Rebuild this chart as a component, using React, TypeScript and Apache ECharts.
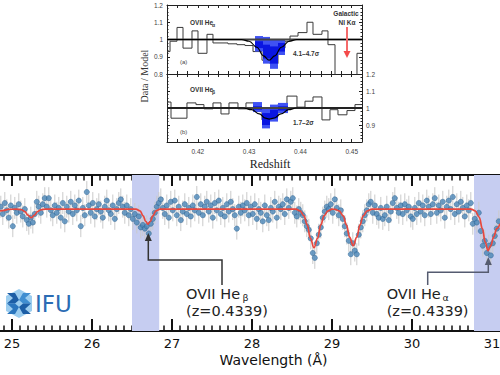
import React, { useEffect, useRef } from "react";
import * as echarts from "echarts";

// ---------- main spectrum ----------
const WL_START = 24.86;
const WL_STEP = 0.025;
const flux = [
  1.02, 0.96, 1.05, 0.99, 0.93, 1.03, 0.86, 1.01, 0.97, 1.04,
  0.98, 0.94, 1.0, 0.91, 0.88, 0.93, 0.89, 0.96, 1.06, 1.02,
  0.97, 1.04, 1.09, 1.02, 1.09, 0.99, 0.95, 1.03, 0.97, 1.01,
  0.93, 1.05, 0.9, 1.02, 0.98, 1.06, 0.96, 1.03, 0.99, 1.07,
  0.86, 1.01, 0.95, 1.14, 1.03, 0.97, 1.05, 0.94, 1.0, 1.04,
  0.98, 0.93, 1.02, 1.07, 0.99, 0.96, 1.03, 0.92, 1.0, 1.05,
  1.08, 1.02, 0.97, 1.03, 0.95, 1.0, 0.92, 0.96, 0.89, 0.94,
  0.85, 0.87, 0.84, 0.86, 0.8, 0.88, 0.92, 0.97, 1.02, 1.05,
  1.08, 1.01, 0.96, 1.03, 0.93, 1.06, 0.99, 1.07, 0.95, 1.02,
  0.91, 0.98, 1.04, 0.96, 1.01, 0.94, 1.03, 0.99, 1.1, 0.97,
  1.04, 0.95, 1.02, 1.06, 0.98, 1.03, 0.93, 1.05, 0.99, 1.07,
  0.96, 1.01, 0.94, 1.04, 0.98, 1.06, 1.0, 0.95, 0.84, 1.02,
  0.97, 1.03, 0.99, 1.05, 0.95, 1.02, 0.96, 1.04, 0.92, 1.0,
  0.97, 0.9, 1.03, 0.95, 0.91, 1.01, 0.98, 1.06, 0.93, 1.02,
  1.0, 1.04, 0.96, 1.08, 1.01, 1.06, 1.09, 0.97, 0.94, 1.0,
  0.97, 0.95, 0.9, 0.86, 0.83, 0.76, 0.64, 0.6, 0.72, 0.79,
  0.85, 0.93, 0.98, 1.02, 1.0, 1.04, 0.97, 1.08, 1.01, 0.95,
  0.99, 0.92, 0.86, 0.8, 0.74, 0.63, 0.72, 0.66, 0.63, 0.79,
  0.85, 0.9, 0.95, 0.99, 1.04, 1.06, 0.97, 1.03, 0.96, 0.93,
  1.01, 0.92, 0.95, 1.02, 0.91, 0.98, 1.05, 1.09, 1.01, 0.97,
  1.03, 0.96, 1.04, 0.99, 1.02, 0.94, 0.92, 1.01, 0.96, 1.05,
  0.98, 1.03, 0.95, 1.07, 1.02, 0.96, 1.04, 1.09, 0.97, 1.03,
  0.99, 1.06, 0.93, 1.02, 1.07, 1.0, 1.1, 0.96, 1.04, 0.98,
  1.06, 1.01, 0.94, 1.03, 0.99, 1.05, 0.88, 0.92, 0.89, 0.97,
  0.82, 0.7, 0.74, 0.64, 0.7, 0.62, 0.72, 0.78, 0.84, 0.9,
];
const FLUX_ERR = 0.09;

const modelCurve = [
  [24.85, 0.985], [24.9, 0.99], [24.95, 0.998], [25.05, 1.0], [25.12, 0.995],
  [25.16, 0.98], [25.2, 0.95], [25.24, 0.93], [25.28, 0.95], [25.32, 0.98],
  [25.36, 0.995], [25.42, 1.0], [26.55, 1.0], [26.6, 0.985], [26.64, 0.945],
  [26.67, 0.9], [26.7, 0.877], [26.73, 0.9], [26.76, 0.945], [26.8, 0.985],
  [26.85, 1.0], [28.55, 1.0], [28.6, 0.985], [28.65, 0.945], [28.69, 0.87],
  [28.73, 0.76], [28.775, 0.683], [28.82, 0.76], [28.86, 0.87], [28.9, 0.945],
  [28.95, 0.985], [29.0, 1.0], [29.04, 0.998], [29.09, 0.985], [29.14, 0.945],
  [29.18, 0.87], [29.22, 0.77], [29.265, 0.7], [29.31, 0.77], [29.35, 0.87],
  [29.39, 0.945], [29.44, 0.985], [29.5, 1.0], [30.74, 1.0], [30.79, 0.985],
  [30.84, 0.935], [30.88, 0.84], [30.915, 0.73], [30.95, 0.66], [30.985, 0.7],
  [31.02, 0.77], [31.06, 0.84], [31.1, 0.88],
];

const bands = [
  [26.5, 26.84],
  [30.775, 31.3],
];

// ---------- inset (redshift) ----------
const histAEdges = [
  0.414, 0.41459, 0.41595, 0.41712, 0.41887, 0.42004, 0.42179, 0.42296, 0.42433,
  0.42589, 0.42764, 0.4292, 0.43076, 0.43251, 0.43407, 0.43563, 0.43699, 0.43797,
  0.43953, 0.44128, 0.44245, 0.4442, 0.44537, 0.44674, 0.45102, 0.452,
];
const histAValues = [
  0.93, 0.99, 1.07, 0.95, 1.05, 0.92, 1.03, 0.98, 0.98, 0.975, 0.97, 0.965, 0.93,
  0.88, 0.86, 0.95, 0.99, 1.02, 1.04, 1.1, 1.03, 1.05, 0.97, 0.7, 0.92,
];
const histBEdges = [
  0.414, 0.41478, 0.41789, 0.41965, 0.4212, 0.42296, 0.42452, 0.42608, 0.42783,
  0.42939, 0.43095, 0.43251, 0.43407, 0.43563, 0.43738, 0.43933, 0.44089, 0.44245,
  0.4442, 0.44576, 0.44732, 0.44907, 0.45063, 0.452,
];
const histBValues = [
  1.035, 0.94, 1.03, 1.02, 0.995, 1.03, 0.965, 1.03, 0.995, 1.03, 1.0, 0.93, 0.95,
  1.02, 1.07, 1.005, 1.04, 1.065, 0.93, 0.99, 0.96, 0.985, 1.02,
];
// [z0, z1, hi, lo]
const blueAOuter = [
  [0.43115, 0.43271, 1.02, 0.93],
  [0.43271, 0.43407, 1.015, 0.86],
  [0.43407, 0.43563, 1.0, 0.83],
  [0.43563, 0.43699, 1.0, 0.91],
];
const blueAInner = [
  [0.43115, 0.43271, 0.99, 0.95],
  [0.43271, 0.43407, 0.97, 0.89],
  [0.43407, 0.43563, 0.96, 0.86],
  [0.43563, 0.43699, 0.98, 0.93],
];
const blueBOuter = [
  [0.43076, 0.43251, 1.035, 0.976],
  [0.43251, 0.43407, 1.006, 0.88],
  [0.43407, 0.43563, 1.02, 0.92],
  [0.43563, 0.43758, 1.03, 0.97],
];
const blueBInner = [
  [0.43076, 0.43251, 1.01, 0.99],
  [0.43251, 0.43407, 0.97, 0.9],
  [0.43407, 0.43563, 0.99, 0.94],
  [0.43563, 0.43758, 1.01, 0.985],
];
const modelA = [
  [0.414, 1], [0.4285, 1.0], [0.43, 0.99], [0.4315, 0.955], [0.4328, 0.905],
  [0.4339, 0.88], [0.435, 0.905], [0.4363, 0.955], [0.4378, 0.99], [0.4393, 1.0], [0.452, 1],
];
const modelB = [
  [0.414, 1], [0.4288, 1], [0.4305, 0.99], [0.432, 0.965], [0.4332, 0.94],
  [0.4339, 0.935], [0.4348, 0.94], [0.4362, 0.965], [0.4377, 0.99], [0.4392, 1], [0.452, 1],
];
const unityLine = [
  [0.414, 1],
  [0.452, 1],
];

const Z_MIN = 0.414;
const Z_MAX = 0.452;

function stepData(edges: number[], vals: number[]) {
  const out: number[][] = [];
  vals.forEach((v, i) => out.push([edges[i], v]));
  out.push([edges[edges.length - 1], vals[vals.length - 1]]);
  return out;
}

function rectRender(color: string) {
  return (params: any, api: any) => {
    const a = api.coord([api.value(0), api.value(2)]);
    const b = api.coord([api.value(1), api.value(3)]);
    return {
      type: "rect",
      shape: { x: a[0], y: a[1], width: b[0] - a[0], height: b[1] - a[1] },
      style: { fill: color },
    };
  };
}

const isMult = (v: number, m: number) => Math.abs(v / m - Math.round(v / m)) < 1e-6;

function insetX(grid: number, position: string, showLabel: boolean) {
  return {
    type: "value",
    gridIndex: grid,
    position,
    min: Z_MIN,
    max: Z_MAX,
    interval: 0.002,
    axisLine: { show: true, onZero: false, lineStyle: { color: "#222", width: 1 } },
    axisTick: { show: true, inside: true, length: 3, lineStyle: { color: "#222", width: 1 } },
    axisLabel: {
      show: showLabel,
      formatter: (v: number) => (isMult(v, 0.01) ? v.toFixed(2) : ""),
      fontSize: 6.5,
      color: "#444",
      margin: 6,
      fontFamily: "Liberation Sans",
    },
    splitLine: { show: false },
  };
}

function insetY(grid: number, position: string, showLabel: boolean, hideMin = false) {
  return {
    type: "value",
    gridIndex: grid,
    position,
    min: 0.8,
    max: 1.2,
    interval: 0.1,
    axisLine: { show: true, onZero: false, lineStyle: { color: "#222", width: 1 } },
    axisTick: { show: true, inside: true, length: 3, lineStyle: { color: "#222", width: 1 } },
    minorTick: { show: true, splitNumber: 5, length: 1.5, lineStyle: { color: "#222", width: 1 } },
    axisLabel: {
      show: showLabel,
      formatter: (v: number) => (hideMin && v < 0.85 ? "" : String(Math.round(v * 10) / 10)),
      fontSize: 6.5,
      color: "#444",
      margin: 4,
      fontFamily: "Liberation Sans",
    },
    splitLine: { show: false },
  };
}

function mainX(position: string, showLabel: boolean, tickLen: number) {
  return {
    type: "value",
    gridIndex: 0,
    position,
    min: 24,
    max: 32,
    interval: 1,
    axisLine: { show: true, onZero: false, lineStyle: { color: "#111", width: 2 } },
    axisTick: { show: true, inside: true, length: tickLen, lineStyle: { color: "#111", width: 2 } },
    minorTick: { show: true, splitNumber: 10, length: 5.5, lineStyle: { color: "#111", width: 1.5 } },
    axisLabel: {
      show: showLabel,
      formatter: (v: number) => (v > 24.5 && v < 31.5 ? String(v) : ""),
      fontSize: 13,
      color: "#111",
      margin: 6,
      fontFamily: "DejaVu Sans",
    },
    splitLine: { show: false },
    minorSplitLine: { show: false },
  };
}

export default function App() {
  const ref = useRef<HTMLDivElement>(null);
  useEffect(() => {
    const chart = echarts.init(ref.current!, null, { renderer: "svg" });
    const points = flux.map((f, i) => [WL_START + i * WL_STEP, f]);
    const smallFont = "Liberation Sans";
    const txt = (x: number, y: number, text: string, size: number, extra: any = {}) => ({
      type: "text",
      x,
      y,
      silent: true,
      style: {
        text,
        fontSize: size,
        fontFamily: extra.fontFamily || "DejaVu Sans",
        fontWeight: extra.fontWeight || "normal",
        fill: extra.fill || "#222",
        textAlign: extra.align || "left",
        textVerticalAlign: "middle",
        fontStyle: extra.fontStyle || "normal",
      },
      rotation: extra.rotation || 0,
      z: 50,
    });

    const gridBase = { containLabel: false, outerBoundsMode: "none" };
    const option: any = {
      animation: false,
      textStyle: { fontFamily: "DejaVu Sans" },
      grid: [
        { ...gridBase, left: -68, right: -72, top: 175, bottom: 44 },
        { ...gridBase, left: 167, width: 195, top: 5, height: 69 },
        { ...gridBase, left: 167, width: 195, top: 74, height: 68 },
      ],
      xAxis: [
        mainX("bottom", true, 12),
        mainX("top", false, 11),
        insetX(1, "bottom", false),
        insetX(1, "top", false),
        insetX(2, "bottom", true),
        insetX(2, "top", false),
      ],
      yAxis: [
        { type: "value", gridIndex: 0, min: 0, max: 1.28, show: false },
        insetY(1, "left", true),
        insetY(1, "right", false),
        insetY(2, "left", false),
        insetY(2, "right", true, true),
      ],
      series: [
        {
          type: "custom",
          xAxisIndex: 0,
          yAxisIndex: 0,
          z: 2,
          silent: true,
          data: points,
          encode: { x: 0, y: 1 },
          renderItem: (params: any, api: any) => {
            const x = api.value(0);
            const y = api.value(1);
            const p1 = api.coord([x, y + FLUX_ERR]);
            const p2 = api.coord([x, y - FLUX_ERR]);
            return {
              type: "line",
              shape: { x1: p1[0], y1: p1[1], x2: p2[0], y2: p2[1] },
              style: { stroke: "#cacaca", lineWidth: 1 },
            };
          },
          markArea: {
            silent: true,
            itemStyle: { color: "#c6cdf1", opacity: 1 },
            data: bands.map((b) => [{ xAxis: b[0] }, { xAxis: b[1] }]),
          },
        },
        {
          type: "scatter",
          xAxisIndex: 0,
          yAxisIndex: 0,
          z: 3,
          symbolSize: 5.2,
          data: points,
          itemStyle: { color: "#4a86b8", borderColor: "#2f6392", borderWidth: 0.6 },
        },
        {
          type: "line",
          xAxisIndex: 0,
          yAxisIndex: 0,
          z: 4,
          data: modelCurve,
          showSymbol: false,
          smooth: 0.4,
          smoothMonotone: "x",
          lineStyle: { color: "#e8473d", width: 1.7 },
        },
        // inset (a)
        {
          type: "line",
          xAxisIndex: 2,
          yAxisIndex: 1,
          data: stepData(histAEdges, histAValues),
          step: "end",
          showSymbol: false,
          lineStyle: { color: "#3a3a3a", width: 1 },
          z: 2,
        },
        {
          type: "custom",
          xAxisIndex: 2,
          yAxisIndex: 1,
          data: blueAOuter,
          encode: { x: [0, 1], y: [2, 3] },
          renderItem: rectRender("#3f52f3"),
          z: 3,
        },
        {
          type: "custom",
          xAxisIndex: 2,
          yAxisIndex: 1,
          data: blueAInner,
          encode: { x: [0, 1], y: [2, 3] },
          renderItem: rectRender("#0a16e2"),
          z: 4,
        },
        {
          type: "line",
          xAxisIndex: 2,
          yAxisIndex: 1,
          data: unityLine,
          showSymbol: false,
          lineStyle: { color: "#444", width: 1.8 },
          z: 5,
        },
        {
          type: "line",
          xAxisIndex: 2,
          yAxisIndex: 1,
          data: modelA,
          showSymbol: false,
          smooth: 0.4,
          smoothMonotone: "x",
          lineStyle: { color: "#000", width: 1.2 },
          z: 6,
        },
        // inset (b)
        {
          type: "line",
          xAxisIndex: 4,
          yAxisIndex: 3,
          data: stepData(histBEdges, histBValues),
          step: "end",
          showSymbol: false,
          lineStyle: { color: "#3a3a3a", width: 1 },
          z: 2,
        },
        {
          type: "custom",
          xAxisIndex: 4,
          yAxisIndex: 3,
          data: blueBOuter,
          encode: { x: [0, 1], y: [2, 3] },
          renderItem: rectRender("#3f52f3"),
          z: 3,
        },
        {
          type: "custom",
          xAxisIndex: 4,
          yAxisIndex: 3,
          data: blueBInner,
          encode: { x: [0, 1], y: [2, 3] },
          renderItem: rectRender("#0a16e2"),
          z: 4,
        },
        {
          type: "line",
          xAxisIndex: 4,
          yAxisIndex: 3,
          data: unityLine,
          showSymbol: false,
          lineStyle: { color: "#444", width: 1.8 },
          z: 5,
        },
        {
          type: "line",
          xAxisIndex: 4,
          yAxisIndex: 3,
          data: modelB,
          showSymbol: false,
          smooth: 0.4,
          smoothMonotone: "x",
          lineStyle: { color: "#000", width: 1.2 },
          z: 6,
        },
      ],
      graphic: [
        // inset texts
        txt(144, 76, "Data / Model", 10, { fontFamily: "Liberation Serif", align: "center", rotation: Math.PI / 2, fill: "#333" }),
        txt(270, 164, "Redshift", 12, { fontFamily: "Liberation Serif", align: "center", fill: "#222" }),
        txt(190, 22, "OVII He", 6.5, { fontFamily: smallFont, fontWeight: "bold", fill: "#333" }),
        txt(212, 25, "α", 5, { fontFamily: smallFont, fontWeight: "bold", fill: "#333" }),
        txt(180, 62, "(a)", 6, { fontFamily: smallFont, fill: "#444" }),
        txt(293, 53, "4.1–4.7σ", 6.5, { fontFamily: smallFont, fontWeight: "bold", fill: "#333" }),
        txt(346, 13, "Galactic", 6.5, { fontFamily: smallFont, fontWeight: "bold", align: "center", fill: "#333" }),
        txt(347, 22, "NI Kα", 6.5, { fontFamily: smallFont, fontWeight: "bold", align: "center", fill: "#333" }),
        {
          type: "line",
          silent: true,
          shape: { x1: 347, y1: 27, x2: 347, y2: 52 },
          style: { stroke: "#f46a6a", lineWidth: 2 },
          z: 50,
        },
        {
          type: "polygon",
          silent: true,
          shape: { points: [[343.5, 51], [350.5, 51], [347, 58]] },
          style: { fill: "#f44a4a" },
          z: 50,
        },
        txt(190, 89, "OVII He", 6.5, { fontFamily: smallFont, fontWeight: "bold", fill: "#333" }),
        txt(212, 92, "β", 5, { fontFamily: smallFont, fontWeight: "bold", fill: "#333" }),
        txt(180, 132, "(b)", 6, { fontFamily: smallFont, fill: "#444" }),
        txt(293, 122, "1.7–2σ", 6.5, { fontFamily: smallFont, fontWeight: "bold", fill: "#333" }),
        // main annotations
        {
          type: "polyline",
          silent: true,
          shape: { points: [[222, 285], [222, 260], [148.3, 260], [148.3, 240]] },
          style: { stroke: "#333", lineWidth: 1.5, fill: null },
          z: 50,
        },
        {
          type: "polygon",
          silent: true,
          shape: { points: [[148.3, 233], [144.8, 241], [151.8, 241]] },
          style: { fill: "#333" },
          z: 50,
        },
        {
          type: "polyline",
          silent: true,
          shape: { points: [[427.7, 285], [427.7, 272.3], [488.3, 272.3], [488.3, 264]] },
          style: { stroke: "#555b70", lineWidth: 1.5, fill: null },
          z: 50,
        },
        {
          type: "polygon",
          silent: true,
          shape: { points: [[488.3, 257], [484.8, 265], [491.8, 265]] },
          style: { fill: "#555b70" },
          z: 50,
        },
        txt(186, 293.5, "OVII He", 14.5),
        txt(242.5, 297.5, "β", 9.5),
        txt(186, 310.5, "(z=0.4339)", 14.5),
        txt(386.7, 293.5, "OVII He", 14.5),
        txt(442.5, 297.5, "α", 9.5),
        txt(386.7, 311, "(z=0.4339)", 14.5),
        txt(273.5, 360, "Wavelength (Å)", 14, { align: "center", fill: "#111" }),
        // IFU logo
        {
          type: "polygon",
          silent: true,
          shape: { points: [[19, 289], [32, 296], [32, 311], [19, 318], [6, 311], [6, 296]] },
          style: { fill: "#9ccdef" },
          z: 50,
        },
        {
          type: "polygon",
          silent: true,
          shape: { points: [[7, 293], [15, 293], [19, 300], [15, 303.5], [7, 303.5], [13, 298]] },
          style: { fill: "#1c5ea6" },
          z: 51,
        },
        {
          type: "polygon",
          silent: true,
          shape: { points: [[31, 293], [23, 293], [19, 300], [23, 303.5], [31, 303.5], [25, 298]] },
          style: { fill: "#3f8ed1" },
          z: 51,
        },
        {
          type: "polygon",
          silent: true,
          shape: { points: [[7, 314], [15, 314], [19, 307], [15, 303.5], [7, 303.5], [13, 309]] },
          style: { fill: "#2a75bd" },
          z: 51,
        },
        {
          type: "polygon",
          silent: true,
          shape: { points: [[31, 314], [23, 314], [19, 307], [23, 303.5], [31, 303.5], [25, 309]] },
          style: { fill: "#1c5ea6" },
          z: 51,
        },
        txt(35, 304, "IFU", 23, { fill: "#2b6cb4" }),
      ],
    };
    chart.setOption(option);
    return () => chart.dispose();
  }, []);
  return (
    <div
      ref={ref}
      style={{ position: "absolute", left: 0, top: 0, width: 500, height: 375, background: "#fff" }}
    />
  );
}
